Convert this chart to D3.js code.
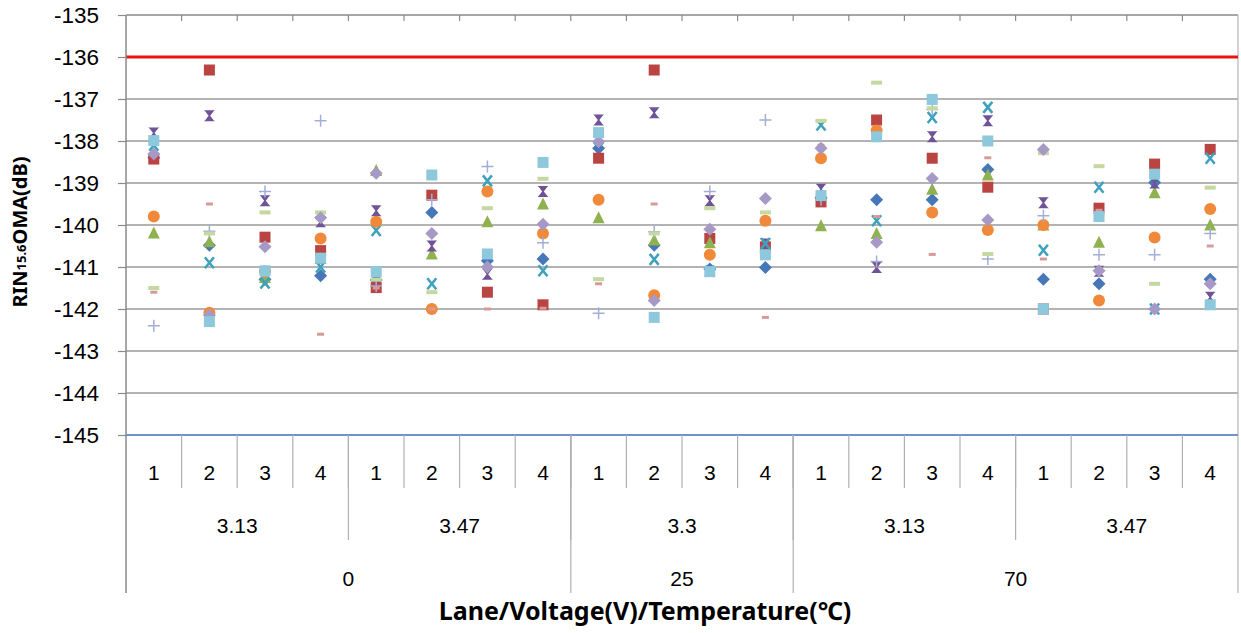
<!DOCTYPE html>
<html><head><meta charset="utf-8">
<script src="https://cdn.jsdelivr.net/npm/d3@7"></script>
<style>body{margin:0;background:#fff}svg{display:block}</style>
</head><body><svg id="c" width="1241" height="633" font-family="Liberation Sans, Arial, sans-serif"></svg>
<script>
const lanes = ["1","2","3","4","1","2","3","4","1","2","3","4","1","2","3","4","1","2","3","4"];
const voltageLabels = ["3.13","3.47","3.3","3.13","3.47"];
const voltageSpans = [4,4,4,4,4];
const tempLabels = ["0","25","70"];
const tempSpans = [8,4,8];
const yTicks = [-145,-144,-143,-142,-141,-140,-139,-138,-137,-136,-135];
const limitValue = -136;

const sBlueDiamond = [-138.4,-140.48,-141.3,-141.21,-141.31,-139.7,-140.85,-140.81,-138.17,-140.48,-141.05,-141.01,-139.35,-139.4,-139.4,-138.68,-141.29,-141.4,-138.99,-141.29];
const sRedSquare = [-138.43,-136.31,-140.29,-140.61,-141.49,-139.29,-141.6,-141.9,-138.41,-136.31,-140.32,-140.52,-139.45,-137.5,-138.41,-139.1,-142.0,-139.6,-138.55,-138.2];
const sGreenTriangle = [-140.19,-140.4,-141.25,-140.8,-138.7,-140.69,-139.92,-139.5,-139.83,-140.36,-140.42,-140.55,-140.02,-140.2,-139.15,-138.81,-140.0,-140.41,-139.23,-140.0];
const sPurpleHourglass = [-137.81,-137.4,-139.42,-139.92,-139.66,-140.5,-141.17,-139.2,-137.5,-137.33,-139.42,-140.45,-139.15,-141.01,-137.9,-137.52,-139.47,-141.1,-139.0,-141.72];
const sTealX = [-138.1,-140.9,-141.38,-141.0,-140.13,-141.4,-138.95,-141.09,-137.95,-140.82,-141.1,-140.44,-137.62,-139.9,-137.44,-137.2,-140.6,-139.1,-142.0,-138.41];
const sOrangeCircle = [-139.8,-142.09,-141.1,-140.32,-139.92,-142.0,-139.2,-140.2,-139.4,-141.67,-140.71,-139.9,-138.41,-137.75,-139.7,-140.12,-140.0,-141.8,-140.3,-139.62];
const sPlus = [-142.4,-140.15,-139.2,-137.52,-141.45,-139.4,-138.61,-140.42,-142.1,-140.16,-139.2,-137.5,-139.4,-140.87,-137.25,-140.81,-139.78,-140.71,-140.71,-140.2];
const sPinkDash = [-141.6,-139.5,-141.2,-142.6,-141.5,-142.0,-142.0,-141.98,-141.4,-139.5,-141.1,-142.2,-138.1,-139.8,-140.7,-138.4,-140.81,-139.65,-142.0,-140.5];
const sGreenDash = [-141.5,-140.2,-139.7,-139.7,-141.3,-141.6,-139.6,-138.9,-141.29,-140.2,-139.6,-139.7,-137.52,-136.61,-137.22,-140.69,-138.29,-138.6,-141.4,-139.11];
const sLilacDiamond = [-138.31,-142.15,-140.52,-139.83,-138.77,-140.2,-141.0,-139.98,-138.02,-141.8,-140.1,-139.37,-138.17,-140.41,-138.89,-139.88,-138.2,-141.09,-142.0,-141.4];
const sLightBlueSquare = [-137.99,-142.3,-141.09,-140.79,-141.11,-138.81,-140.69,-138.51,-137.8,-142.2,-141.11,-140.71,-139.3,-137.9,-137.01,-138.0,-142.0,-139.8,-138.79,-141.9];

const series = [
  {v:sBlueDiamond, shape:"diamond", color:"#4677b8"},
  {v:sRedSquare, shape:"square", color:"#b94441"},
  {v:sGreenTriangle, shape:"triangle", color:"#8fb14f"},
  {v:sPurpleHourglass, shape:"hourglass", color:"#6f5396"},
  {v:sTealX, shape:"x", color:"#3fa2bd"},
  {v:sOrangeCircle, shape:"circle", color:"#f08a3a"},
  {v:sPlus, shape:"plus", color:"#a3aed6"},
  {v:sPinkDash, shape:"dashS", color:"#d69a98"},
  {v:sGreenDash, shape:"dashL", color:"#c5d8a0"},
  {v:sLilacDiamond, shape:"diamond", color:"#a799c6"},
  {v:sLightBlueSquare, shape:"square", color:"#8ec8dc"}
];

const svg = d3.select("#c");
const L = 126, R = 1238, T = 15, B = 435;
const x = d3.scaleBand().domain(d3.range(lanes.length)).range([L, R]);
const y = d3.scaleLinear().domain([-145, -135]).range([B, T]);
const bw = x.bandwidth();

svg.append("g").selectAll("line").data(yTicks.filter(t => t > -145 && t < -135 && t !== limitValue))
  .join("line").attr("x1", L).attr("x2", R).attr("y1", d => y(d)).attr("y2", d => y(d))
  .attr("stroke", "#9a9a9a").attr("stroke-width", 1.6);
svg.append("line").attr("x1", L).attr("x2", R).attr("y1", y(-135)).attr("y2", y(-135)).attr("stroke", "#8a8a8a").attr("stroke-width", 1.5);
svg.append("g").selectAll("line").data(d3.range(1, lanes.length)).join("line")
  .attr("x1", d => L + d * bw).attr("x2", d => L + d * bw).attr("y1", T).attr("y2", T + 6)
  .attr("stroke", "#8a8a8a").attr("stroke-width", 1.2);
svg.append("line").attr("x1", R).attr("x2", R).attr("y1", T).attr("y2", 593).attr("stroke", "#b5b5b5").attr("stroke-width", 1.2);

svg.append("line").attr("x1", L).attr("x2", R).attr("y1", y(limitValue)).attr("y2", y(limitValue)).attr("stroke", "#ee1111").attr("stroke-width", 3);

const yAxis = svg.append("g").attr("transform", `translate(${L},0)`)
  .call(d3.axisLeft(y).tickValues(yTicks).tickSize(8).tickPadding(19).tickFormat(d => String(d)));
yAxis.select(".domain").remove();
yAxis.selectAll(".tick line").attr("stroke", "#8a8a8a").attr("stroke-width", 1.2);
yAxis.selectAll(".tick text").attr("font-size", 22.5).attr("fill", "#000").attr("font-family", "Liberation Sans, Arial, sans-serif");
svg.append("line").attr("x1", L).attr("x2", L).attr("y1", T).attr("y2", 593).attr("stroke", "#8a8a8a").attr("stroke-width", 1.5);

svg.append("line").attr("x1", L).attr("x2", R).attr("y1", B).attr("y2", B).attr("stroke", "#6f93c9").attr("stroke-width", 2);

svg.append("g").selectAll("line").data(d3.range(1, lanes.length)).join("line")
  .attr("x1", d => L + d * bw).attr("x2", d => L + d * bw).attr("y1", B).attr("y2", 488)
  .attr("stroke", "#b0b0b0").attr("stroke-width", 1.2);
svg.append("g").selectAll("text").data(lanes).join("text")
  .attr("x", (d, i) => x(i) + bw / 2).attr("y", 480).attr("text-anchor", "middle")
  .attr("font-size", 21).text(d => d);

let acc = 0;
const vPos = voltageSpans.map(s => { const a = acc; acc += s; return [a, acc]; });
svg.append("g").selectAll("line").data(vPos.slice(0, -1)).join("line")
  .attr("x1", d => L + d[1] * bw).attr("x2", d => L + d[1] * bw).attr("y1", B).attr("y2", 540)
  .attr("stroke", "#b0b0b0").attr("stroke-width", 1.2);
svg.append("g").selectAll("text").data(voltageLabels).join("text")
  .attr("x", (d, i) => L + (vPos[i][0] + vPos[i][1]) / 2 * bw).attr("y", 533).attr("text-anchor", "middle")
  .attr("font-size", 21).text(d => d);

acc = 0;
const tPos = tempSpans.map(s => { const a = acc; acc += s; return [a, acc]; });
svg.append("g").selectAll("line").data(tPos.slice(0, -1)).join("line")
  .attr("x1", d => L + d[1] * bw).attr("x2", d => L + d[1] * bw).attr("y1", B).attr("y2", 593)
  .attr("stroke", "#b0b0b0").attr("stroke-width", 1.2);
svg.append("g").selectAll("text").data(tempLabels).join("text")
  .attr("x", (d, i) => L + (tPos[i][0] + tPos[i][1]) / 2 * bw).attr("y", 586).attr("text-anchor", "middle")
  .attr("font-size", 21).text(d => d);

svg.append("text").attr("x", 645).attr("y", 620).attr("text-anchor", "middle")
  .style("font-size", "25px").style("font-weight", "bold").style("font-family", "'Noto Sans', sans-serif")
  .text("Lane/Voltage(V)/Temperature(℃)");
const yt = svg.append("text").attr("transform", "translate(27,232) rotate(-90)").attr("text-anchor", "middle")
  .style("font-size", "20px").style("font-weight", "bold").style("font-family", "'Noto Sans', sans-serif");
yt.append("tspan").text("RIN");
yt.append("tspan").style("font-size", "13px").attr("dy", -1).text("15.6");
yt.append("tspan").attr("dy", 1).text("OMA(dB)");

function drawMarker(g, shape, color) {
  switch (shape) {
    case "diamond": g.append("path").attr("d", "M0,-6.5L6.5,0L0,6.5L-6.5,0Z").attr("fill", color); break;
    case "square": g.append("rect").attr("x", -5.5).attr("y", -5.5).attr("width", 11).attr("height", 11).attr("fill", color); break;
    case "triangle": g.append("path").attr("d", "M0,-6.5L6,5.5L-6,5.5Z").attr("fill", color); break;
    case "hourglass": g.append("path").attr("d", "M-5.5,-5.5L5.5,-5.5L4,-4.2L0.8,0L4,4.2L5.5,5.5L-5.5,5.5L-4,4.2L-0.8,0L-4,-4.2Z").attr("fill", color); break;
    case "x": g.append("path").attr("d", "M-4.5,-5.5L4.5,5.5M4.5,-5.5L-4.5,5.5").attr("stroke", color).attr("stroke-width", 2.6).attr("fill", "none"); break;
    case "circle": g.append("circle").attr("r", 6).attr("fill", color); break;
    case "plus": g.append("path").attr("d", "M-6,0H6M0,-6V6").attr("stroke", color).attr("stroke-width", 1.5); break;
    case "dashS": g.append("rect").attr("x", -3.5).attr("y", -1.5).attr("width", 7).attr("height", 3).attr("fill", color); break;
    case "dashL": g.append("rect").attr("x", -5.5).attr("y", -2).attr("width", 11).attr("height", 4).attr("fill", color); break;
  }
}
series.forEach(s => {
  const g = svg.append("g");
  s.v.forEach((val, i) => {
    const m = g.append("g").attr("transform", `translate(${x(i) + bw / 2},${y(val)})`);
    drawMarker(m, s.shape, s.color);
  });
});
</script></body></html>
